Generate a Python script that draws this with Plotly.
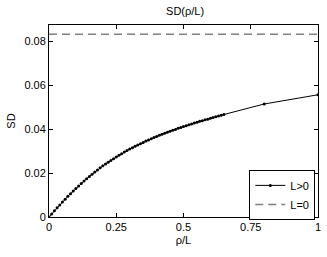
import plotly.graph_objects as go

rho = [0.00, 0.01, 0.02, 0.03, 0.04, 0.05, 0.06, 0.07, 0.08, 0.09,
       0.10, 0.11, 0.12, 0.13, 0.14, 0.15, 0.16, 0.17, 0.18, 0.19,
       0.20, 0.21, 0.22, 0.23, 0.24, 0.25, 0.26, 0.27, 0.28, 0.29,
       0.30, 0.31, 0.32, 0.33, 0.34, 0.35, 0.36, 0.37, 0.38, 0.39,
       0.40, 0.41, 0.42, 0.43, 0.44, 0.45, 0.46, 0.47, 0.48, 0.49,
       0.50, 0.51, 0.52, 0.53, 0.54, 0.55, 0.56, 0.57, 0.58, 0.59,
       0.60, 0.61, 0.62, 0.63, 0.64, 0.65, 0.80, 1.00]
sd = [0.0000, 0.0014, 0.0028, 0.0042, 0.0055, 0.0068, 0.0081, 0.0094, 0.0106, 0.0118,
      0.0130, 0.0141, 0.0153, 0.0164, 0.0174, 0.0185, 0.0195, 0.0205, 0.0214, 0.0224,
      0.0233, 0.0241, 0.0250, 0.0258, 0.0266, 0.0274, 0.0281, 0.0288, 0.0296, 0.0303,
      0.0310, 0.0316, 0.0322, 0.0328, 0.0334, 0.0340, 0.0346, 0.0351, 0.0357, 0.0362,
      0.0367, 0.0372, 0.0377, 0.0382, 0.0386, 0.0391, 0.0395, 0.0399, 0.0404, 0.0408,
      0.0412, 0.0416, 0.0420, 0.0424, 0.0428, 0.0432, 0.0436, 0.0439, 0.0443, 0.0446,
      0.0450, 0.0453, 0.0457, 0.0460, 0.0464, 0.0467, 0.0515, 0.0557]
sd_L0 = 1.0 / 12.0
x_range = [0, 1]
y_range = [0, 0.0875]
x_ticks = [0, 0.25, 0.5, 0.75, 1]
x_ticklabels = ["0", "0.25", "0.5", "0.75", "1"]
y_ticks = [0, 0.02, 0.04, 0.06, 0.08]
y_ticklabels = ["0", "0.02", "0.04", "0.06", "0.08"]

font = "Liberation Sans, Arial, sans-serif"

fig = go.Figure()
fig.add_trace(go.Scatter(
    x=rho, y=sd, mode="lines+markers", name="L>0",
    line=dict(color="black", width=1),
    marker=dict(color="black", size=3),
))
fig.add_trace(go.Scatter(
    x=x_range, y=[sd_L0, sd_L0], mode="lines", name="L=0",
    line=dict(color="#808080", width=1.5, dash="8px,5px"),
))

axis_common = dict(
    showline=True, linecolor="black", linewidth=1, mirror="ticks",
    ticks="inside", ticklen=4, tickcolor="black", showgrid=False,
    zeroline=False, tickfont=dict(family=font, size=11, color="black"),
)
fig.update_xaxes(range=x_range, tickvals=x_ticks, ticktext=x_ticklabels,
                 title=dict(text="ρ/L", font=dict(family=font, size=11, color="black"), standoff=4),
                 **axis_common)
fig.update_yaxes(range=y_range, tickvals=y_ticks, ticktext=y_ticklabels,
                 title=dict(text="SD", font=dict(family=font, size=11, color="black"), standoff=6),
                 **axis_common)

fig.update_layout(
    width=327, height=257,
    margin=dict(l=49, r=6, t=25, b=40),
    plot_bgcolor="white", paper_bgcolor="white",
    title=dict(text="SD(ρ/L)", x=0.566, xanchor="center", y=0.955, yanchor="middle",
               font=dict(family=font, size=11, color="black")),
    legend=dict(x=0.99, y=-0.015, xanchor="right", yanchor="bottom",
                bgcolor="white", bordercolor="black", borderwidth=1,
                font=dict(family=font, size=11, color="black"),
                tracegroupgap=0, itemwidth=30),
    showlegend=True,
)

fig.write_html("out.html", config={"displayModeBar": False},
               post_script="document.body.style.margin='0px';document.body.style.padding='0px';")
